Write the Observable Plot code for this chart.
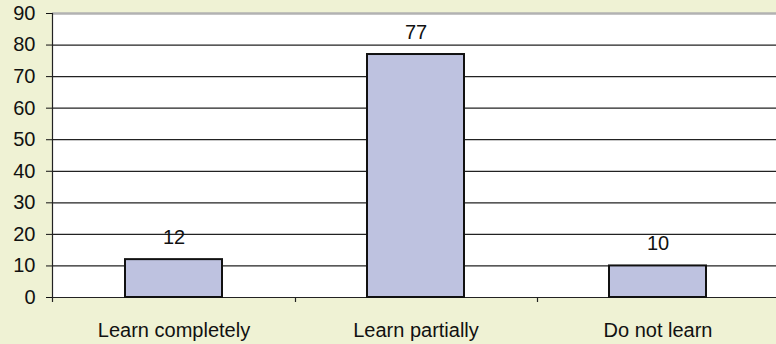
<!DOCTYPE html>
<html>
<head>
<meta charset="utf-8">
<script src="https://cdn.jsdelivr.net/npm/d3@7"></script>
<script src="https://cdn.jsdelivr.net/npm/@observablehq/plot@0.6"></script>
<style>
  html, body { margin: 0; padding: 0; background: #eff2d4; overflow: hidden; }
  #chart { width: 776px; height: 344px; overflow: hidden; }
</style>
</head>
<body>
<div id="chart"></div>
<script>
// Survey answers: share of respondents (%) per learning outcome
const categories = ["Learn completely", "Learn partially", "Do not learn"];
const values = [12, 77, 10];
const yTicks = [0, 10, 20, 30, 40, 50, 60, 70, 80, 90];

const rows = categories.map((c, i) => ({category: c, value: values[i]}));

// Axis line and the tick marks that separate the categories on the baseline
function frameTicks(index, scales, vals, dims, context) {
  const x = scales.x, y = scales.y;
  const step = typeof x.step === "function"
    ? x.step()
    : (dims.width - dims.marginLeft - dims.marginRight) / categories.length;
  const bw = typeof x.bandwidth === "function" ? x.bandwidth() : x.bandwidth;
  const y0 = y(0), yTop = y(90);
  const g = d3.create("svg:g").attr("stroke", "#222").attr("stroke-width", 1.2);
  // category boundaries
  categories.slice(1).forEach(c => {
    const bx = Math.round(x(c) + bw / 2 - step / 2) + 0.5;
    g.append("line").attr("x1", bx).attr("x2", bx).attr("y1", y0).attr("y2", y0 + 5);
  });
  // vertical axis
  const ax = dims.marginLeft + 0.5;
  g.append("line").attr("x1", ax).attr("x2", ax).attr("y1", yTop).attr("y2", y0 + 5);
  return g.node();
}

const chart = Plot.plot({
  width: 776,
  height: 344,
  marginLeft: 52,
  marginRight: -3,
  marginTop: 13,
  marginBottom: 47,
  style: {
    background: "#eff2d4",
    fontFamily: "'Liberation Sans', Arial, sans-serif",
    fontSize: "20px",
    color: "#111",
    overflow: "hidden"
  },
  x: {
    domain: categories,
    paddingInner: 0.6,
    paddingOuter: 0.3,
    tickSize: 0,
    tickPadding: 25,
    label: null
  },
  y: {
    domain: [0, 90],
    ticks: yTicks,
    tickSize: 6,
    tickPadding: 11,
    label: null
  },
  marks: [
    Plot.frame({fill: "white", stroke: null}),
    Plot.ruleY(yTicks.filter(t => t < 90), {stroke: "#222", strokeWidth: 1.2}),
    Plot.ruleY([90], {stroke: "#b2b2b2", strokeWidth: 2.5}),
    Plot.barY(rows, {
      x: "category",
      y: "value",
      fill: "#bec2e0",
      stroke: "#111",
      strokeWidth: 2
    }),
    Plot.text(rows, {
      x: "category",
      y: "value",
      text: d => String(d.value),
      dy: -22,
      fill: "#111",
      fontSize: 20
    }),
    frameTicks
  ]
});

document.getElementById("chart").appendChild(chart);
</script>
</body>
</html>
